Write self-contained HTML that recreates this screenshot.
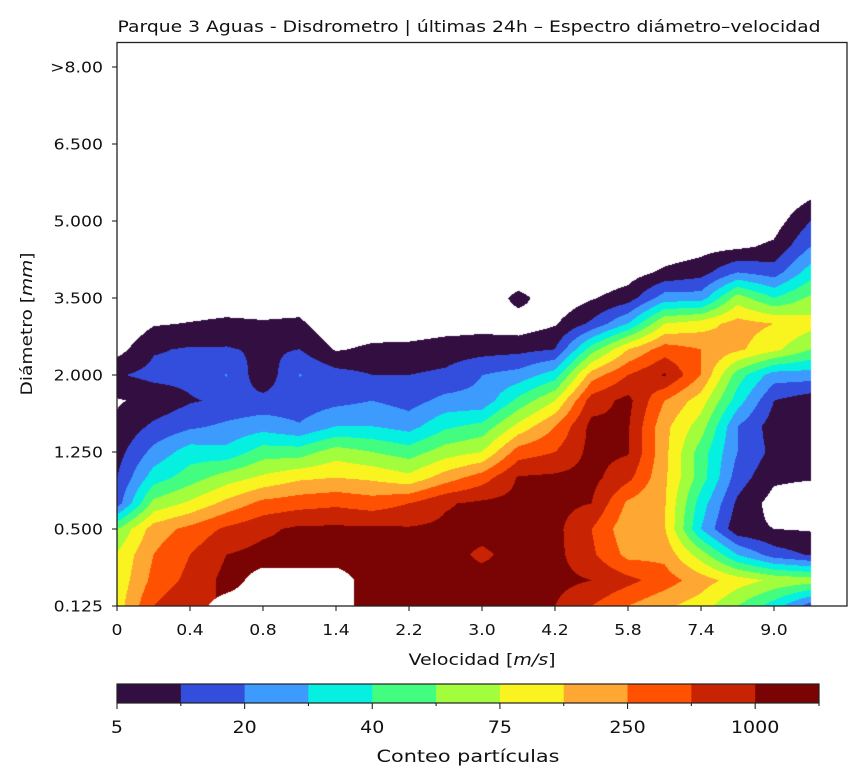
<!DOCTYPE html>
<html><head><meta charset="utf-8"><style>
body{margin:0;background:#fff;width:861px;height:782px;overflow:hidden;font-family:"DejaVu Sans","Liberation Sans",sans-serif;}
#root{position:relative;width:861px;height:782px;}
canvas{position:absolute;left:0;top:0;}
svg{position:absolute;left:0;top:0;font-family:"DejaVu Sans","Liberation Sans",sans-serif;}
</style></head><body>
<div id="root">
<canvas id="cv" width="861" height="782"></canvas>
<svg id="sv" width="861" height="782"></svg>
</div>
<script>
// ---- data ----
const velocityTickLabels = ["0","0.4","0.8","1.4","2.2","3.0","4.2","5.8","7.4","9.0"];
const diameterTickLabels = ["0.125","0.500","1.250","2.000","3.500","5.000","6.500",">8.00"];
const colorbarTickLabels = ["5","20","40","75","250","1000"];
const levelColors = ["#330e40","#334ddd","#3d9bfe","#05f0e0","#42fd80","#a2fd3c","#f9f41f","#fea733","#fe5202","#c82302","#7a0403"];
const N = null;
// count level (band index) per velocity bin (column), listed from smallest diameter bin upward
const levelByVelocityBin = [
 [7.5,7.3,7.1,6,2.5,2,1.6,1.2,0.9,1.9,0.6,0],
 [10,9.3,9,8.5,6.3,4.5,3.3,2.2,1.3,2.3,1.9,0.9,0.2,0],
 [11,10.3,10,9.3,7.2,5.5,4.5,2.8,1.9,2.3,2.1,1.05,0.3,0],
 [N,11.3,11,10.2,8.3,6.5,4.3,3.2,2.2,3.05,2.1,1.2,0.4,0],
 [N,N,11.3,10.8,9.3,7.2,5.5,3.6,2.3,1.3,1.8,1.1,0.4,0],
 [N,N,11.2,11.2,9.6,7.8,5.5,3.1,2.4,3.05,2,1.2,0.4,0],
 [N,N,11.2,11.2,9.8,8,6.5,4,2.7,2.4,0.9,0.2,0],
 [11.2,11.2,11.2,11.2,9.5,7.8,6,4,3,2,1.2,0.4,0],
 [11.2,11.2,11.2,11.1,10,7.3,5.5,3.6,2.6,2,1.3,0.3,0],
 [11.2,11.2,11.3,11.2,10.9,8.5,6.5,4.8,3.3,2.2,1.5,0.5,0],
 [11.3,11.3,10.85,11.3,11.2,9.5,7,5.3,3.3,3.0,1.6,0.6,0],
 [11.3,11.3,11.3,11.3,11.3,11.1,9.5,7.3,5.3,3.4,1.7,0.4,1.4,0],
 [11,11.3,11.3,11.3,11.3,11.2,10,9,7,4.5,2,0.9,0.2,0],
 [10,11,10.2,10,11,11.3,11.3,11.3,10.5,8.5,5.5,2.2,0.9,0.2,0],
 [9,10.3,8.7,8.3,8.8,10.3,11.1,11.1,11.3,10,8,4,1.5,0.5,0],
 [8.2,9.5,8.7,8.1,8.1,8.2,8.3,8.3,9,11.1,9.5,7,3.5,1.2,0.3,0],
 [7.5,8.5,6.5,4,4.5,5.5,5.5,6.5,7.5,9,9,7.5,3.5,1.6,0.6,0],
 [6,7.5,4,1.3,1.8,2.5,3,3,4.5,5.5,8.2,8.4,6.5,3,0.8,0.2,0],
 [4.5,6.8,2.5,1,0.6,1.2,1.7,1.5,2,3.5,7.3,8,5,2.5,1.2,0.5,0],
 [2.5,6.5,1.9,0.9,0.2,1.1,1.3,1.2,1.4,3.5,6,7.4,6.2,4.5,3,2,0.8,0]
];
// ---- axes ----
const PX0=117, PX1=847, PY0=606, PY1=42.5;
const xScale = u => PX0 + u*73;      // u in velocity tick units
const yScale = v => PY0 - v*77;      // v in diameter tick units
function val(j,i){const c=levelByVelocityBin[j]; if(!c) return undefined; if(i>=c.length) return 0; return c[i];}

const cv=document.getElementById('cv'), ctx=cv.getContext('2d');
const nC=levelByVelocityBin.length;
const img=ctx.createImageData(861,782);
const rgb=levelColors.map(h=>[parseInt(h.slice(1,3),16),parseInt(h.slice(3,5),16),parseInt(h.slice(5,7),16)]);
const xMax=xScale((nC-1)/2);
for(let py=Math.ceil(PY1);py<PY0;py++){
 for(let px=PX0;px<=Math.floor(xMax);px++){
  const fx=((px+0.5-PX0)/73)*2, fy=((PY0-(py+0.5))/77)*3;
  let j=Math.floor(fx), i=Math.floor(fy); if(j>=nC-1) j=nC-2; if(i<0)i=0;
  const tx=fx-j, ty=fy-i;
  const pts=[[j,i,(1-tx)*(1-ty)],[j+1,i,tx*(1-ty)],[j,i+1,(1-tx)*ty],[j+1,i+1,tx*ty]];
  let m=0,s=0;
  for(const [a,b,w] of pts){const v=val(a,b); if(v!==null&&v!==undefined){m+=w;s+=w*v;}}
  if(m<0.5) continue;
  const v=s/m; if(v<1) continue;
  const k=Math.min(10,Math.floor(v)-1);
  const o=(py*861+px)*4; img.data[o]=rgb[k][0];img.data[o+1]=rgb[k][1];img.data[o+2]=rgb[k][2];img.data[o+3]=255;
 }
}
ctx.putImageData(img,0,0);

// ---- SVG axes ----
const sv=document.getElementById('sv'), NS='http://www.w3.org/2000/svg';
function el(t,a,txt){const e=document.createElementNS(NS,t);for(const k in a)e.setAttribute(k,a[k]);if(txt!==undefined)e.textContent=txt;sv.appendChild(e);return e;}
function stretch(e,f){const w=e.getComputedTextLength();if(w>0){e.setAttribute('textLength',(w*f).toFixed(1));e.setAttribute('lengthAdjust','spacingAndGlyphs');}}
let e;
e=el('rect',{x:PX0,y:PY1,width:PX1-PX0,height:PY0-PY1,fill:'none',stroke:'#222','stroke-width':1.3});


velocityTickLabels.forEach((t,k)=>{const x=xScale(k);
 e=el('line',{x1:x,x2:x,y1:PY0,y2:PY0+5,stroke:'#222','stroke-width':1.1});
 
 
 e=el('text',{x:x,y:PY0+29,'text-anchor':'middle','font-size':15,fill:'#111'},t);
 
 
 stretch(e,1.15);
});
diameterTickLabels.forEach((t,k)=>{const y=yScale(k);
 e=el('line',{x1:PX0-5,x2:PX0,y1:y,y2:y,stroke:'#222','stroke-width':1.1});
 
 
 e=el('text',{x:PX0-14,y:y+5.5,'text-anchor':'end','font-size':15,fill:'#111'},t);
 
 
 stretch(e,1.15);
});
e=el('text',{x:469,y:32,'text-anchor':'middle','font-size':16,fill:'#111'},'Parque 3 Aguas - Disdrometro | últimas 24h – Espectro diámetro–velocidad');


e.setAttribute('textLength','703');e.setAttribute('lengthAdjust','spacingAndGlyphs');
e=el('text',{x:482,y:665,'text-anchor':'middle','font-size':16,fill:'#111'});


e.innerHTML='Velocidad [<tspan font-style="italic">m/s</tspan>]';
e.setAttribute('textLength','147');e.setAttribute('lengthAdjust','spacingAndGlyphs');
e=el('text',{x:0,y:0,'text-anchor':'middle','font-size':16,fill:'#111',transform:'translate(32,324) rotate(-90)'});


e.innerHTML='Diámetro [<tspan font-style="italic">mm</tspan>]';
e.setAttribute('textLength','143');e.setAttribute('lengthAdjust','spacingAndGlyphs');
// colorbar
const CB0=117, CB1=819, CBy=684, CBh=19, cw=(CB1-CB0)/levelColors.length;
levelColors.forEach((c,k)=>{
 e=el('rect',{x:CB0+k*cw,y:CBy,width:cw+0.5,height:CBh,fill:c});
 
 
});
e=el('rect',{x:CB0,y:CBy,width:CB1-CB0,height:CBh,fill:'none',stroke:'#222','stroke-width':1.2});


for(let k=0;k<=levelColors.length;k++){const x=CB0+k*cw;
 e=el('line',{x1:x,x2:x,y1:CBy+CBh,y2:CBy+CBh+(k%2?3:6),stroke:'#222','stroke-width':1.1});
 
 
}
colorbarTickLabels.forEach((t,k)=>{const x=CB0+2*k*cw;
 e=el('text',{x:x,y:733,'text-anchor':'middle','font-size':17,fill:'#111'},t);
 
 
 stretch(e,1.12);
});
e=el('text',{x:468,y:762,'text-anchor':'middle','font-size':17,fill:'#111'},'Conteo partículas');


e.setAttribute('textLength','183');e.setAttribute('lengthAdjust','spacingAndGlyphs');
</script>
</body></html>
